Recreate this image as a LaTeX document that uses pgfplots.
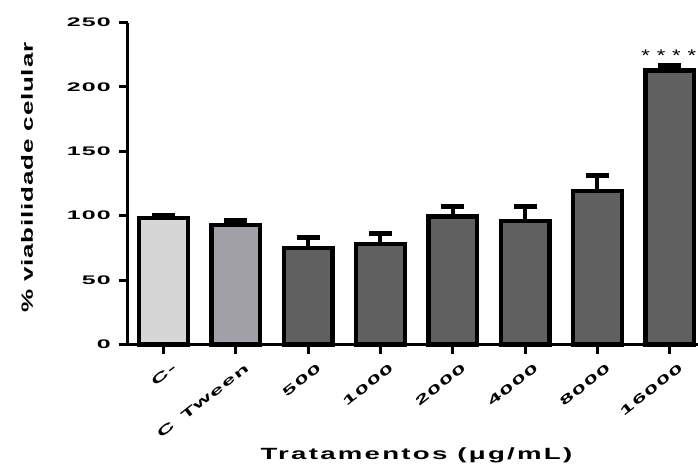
\documentclass[border=0pt]{standalone}
\usepackage{graphicx}
\usepackage{pgfplots}
\pgfplotsset{compat=1.18}
\usepackage{fontspec}
\setmainfont{Liberation Sans}
\newfontfamily\tickfont{Liberation Sans}[FakeStretch=2.0, LetterSpace=10]
\newfontfamily\xtickfont{Liberation Sans}[LetterSpace=6]
\newfontfamily\ylabfont{Liberation Sans}[FakeStretch=1.6, LetterSpace=5]
\newfontfamily\xlabfont{Liberation Sans}[FakeStretch=1.7, LetterSpace=14]
\newfontfamily\starfont{Liberation Sans}[FakeStretch=1.3, LetterSpace=40]
\newcommand\xt[1]{\scalebox{2.0}[1]{\xtickfont\bfseries\fontsize{12.5}{12.5}\selectfont #1}}
\definecolor{cneg}{RGB}{214,214,214}
\definecolor{ctween}{RGB}{161,160,166}
\definecolor{cdark}{RGB}{96,96,96}
\begin{document}
\begin{tikzpicture}
\begin{axis}[
  at={(0,0)}, anchor=south west,
  scale only axis, width=570bp, height=322bp,
  xmin=-0.49, xmax=7.39, ymin=0, ymax=250,
  axis x line*=bottom, axis y line*=left,
  axis line style={line width=3bp, black},
  tick style={line width=3bp, black},
  major tick length=9bp, tick align=outside,
  ytick={0,50,100,150,200,250},
  xtick={0,1,2,3,4,5,6,7},
  xticklabels={\xt{C-}, \xt{C\hspace{0.5em}Tween}, \xt{500}, \xt{1000}, \xt{2000}, \xt{4000}, \xt{8000}, \xt{16000}},
  /pgf/number format/assume math mode=true,
  yticklabel style={font=\tickfont\bfseries\fontsize{12.5}{12.5}\selectfont, inner sep=0pt, xshift=-8bp},
  xticklabel style={rotate=38, anchor=east, inner sep=0pt, xshift=1bp, yshift=-17bp},
  ylabel={\% viabilidade celular},
  ylabel style={at={(axis description cs:-0.177,0.518)}, anchor=center, font=\ylabfont\bfseries\fontsize{16.3}{16.3}\selectfont},
  xlabel={Tratamentos (μg/mL)},
  xlabel style={at={(axis description cs:0.506,-0.357)}, anchor=base, font=\xlabfont\bfseries\fontsize{16.3}{16.3}\selectfont},
  ybar, bar width=48.7bp,
  clip=false,
  error bars/y dir=plus,
  error bars/y explicit,
  error bars/error bar style={line width=4bp, black},
  error bars/error mark=|,
  error bars/error mark options={line width=5bp, mark size=11.5bp, black},
]
\addplot[bar shift=0pt, fill=cneg, draw=black, line width=4.3bp] coordinates {(0,98.2) +- (0,2.3)};
\addplot[bar shift=0pt, fill=ctween, draw=black, line width=4.3bp] coordinates {(1,93.0) +- (0,3.0)};
\addplot[bar shift=0pt, fill=cdark, draw=black, line width=4.3bp] coordinates {
  (2,75.0) +- (0,7.7)
  (3,78.0) +- (0,8.0)
  (4,99.4) +- (0,8.0)
  (5,95.9) +- (0,11.4)
  (6,119.2) +- (0,12.0)
  (7,212.7) +- (0,4.0)
};
\node[font=\starfont\fontsize{17}{17}\selectfont, anchor=base, xshift=-1bp] at (axis cs:7,219.8) {****};
\end{axis}
\pgfresetboundingbox
\useasboundingbox (-128bp,-121.5bp) rectangle (570bp,344.5bp);
\end{tikzpicture}
\end{document}
